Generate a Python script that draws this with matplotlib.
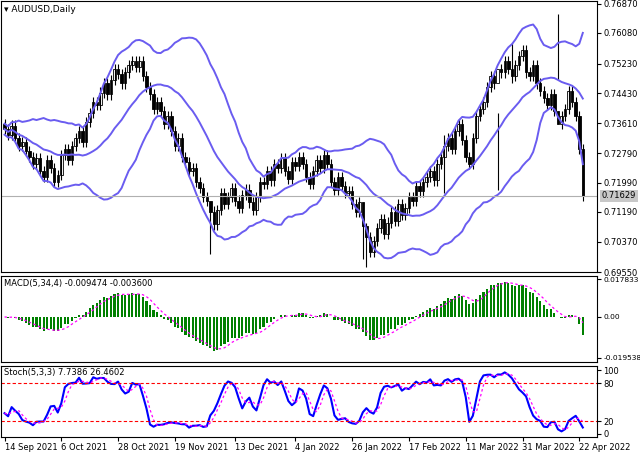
import matplotlib.pyplot as plt
import numpy as np
import pandas as pd

# daily closes AUDUSD
closes = [
    0.7345, 0.7330, 0.7355, 0.7320, 0.7300, 0.7310, 0.7285, 0.7270, 0.7250, 0.7265, 0.7230, 0.7215, 0.7260, 0.7240, 0.7200, 0.7220, 0.7275,
    0.7290, 0.7260, 0.7300, 0.7320, 0.7340, 0.7310, 0.7365, 0.7390, 0.7420, 0.7410, 0.7445, 0.7470, 0.7440, 0.7480, 0.7510, 0.7495, 0.7470, 0.7500, 0.7520, 0.7530, 0.7515,
    0.7530, 0.7490, 0.7460, 0.7440, 0.7400, 0.7420, 0.7395, 0.7360, 0.7380, 0.7340, 0.7300, 0.7320, 0.7270, 0.7255, 0.7230, 0.7240, 0.7200, 0.7185, 0.7160, 0.7150, 0.7120,
    0.7085, 0.7125, 0.7170, 0.7140, 0.7160, 0.7185, 0.7150, 0.7130, 0.7165, 0.7180, 0.7145, 0.7125, 0.7160, 0.7200, 0.7195, 0.7230, 0.7205, 0.7250, 0.7240, 0.7265, 0.7230, 0.7210, 0.7255, 0.7245, 0.7270,
    0.7250, 0.7215, 0.7195, 0.7230, 0.7260, 0.7240, 0.7275, 0.7250, 0.7200, 0.7180, 0.7215, 0.7190, 0.7170, 0.7175, 0.7140, 0.7120, 0.7145, 0.7080, 0.7050, 0.7010, 0.7040, 0.7075,
    0.7100, 0.7060, 0.7090, 0.7120, 0.7095, 0.7140, 0.7110, 0.7130, 0.7160, 0.7150, 0.7190, 0.7175, 0.7200, 0.7215, 0.7230, 0.7205, 0.7250, 0.7270, 0.7300, 0.7320,
    0.7290, 0.7340, 0.7360, 0.7315, 0.7270, 0.7250, 0.7320, 0.7380, 0.7400, 0.7420, 0.7460, 0.7490, 0.7470, 0.7510, 0.7500, 0.7530, 0.7510, 0.7490, 0.7520, 0.7545, 0.7560, 0.7500, 0.7490,
    0.7520, 0.7470, 0.7450, 0.7430, 0.7410, 0.7440, 0.7395, 0.7360, 0.7380, 0.7400, 0.7450, 0.7420, 0.7380, 0.7290, 0.7163,
]
first_open = 0.7360
wick = 0.0014
# notable long wicks: bar index -> (high, low)
spikes = {58: (0.7130, 0.7005), 102: (0.7090, 0.6970), 101: (0.7110, 0.6990), 124: (0.7330, 0.7170), 139: (0.7390, 0.7180), 156: (0.7660, 0.7480), 143: (0.7580, 0.7470)}

price_ticks = [0.76870, 0.76080, 0.75230, 0.74430, 0.73610, 0.72790, 0.71990, 0.71190, 0.70370, 0.69550]
macd_ticks = [0.017833, 0.0, -0.019538]
macd_labels = ['0.017833', '0.00', '-0.019538']
date_labels = ['14 Sep 2021', '6 Oct 2021', '28 Oct 2021', '19 Nov 2021', '13 Dec 2021', '4 Jan 2022',
               '26 Jan 2022', '17 Feb 2022', '11 Mar 2022', '31 Mar 2022', '22 Apr 2022']
date_idx = [0, 16, 32, 48, 65, 82, 98, 114, 130, 146, 162]
last_price = 0.71629

c = pd.Series(closes)
o = c.shift(1).fillna(first_open)
hi = np.maximum(o, c) + wick
lo = np.minimum(o, c) - wick
for k, (h, l) in spikes.items():
    hi[k], lo[k] = h, l
x = np.arange(len(c))

# indicators
mid = c.rolling(20, min_periods=1).mean()
sd = c.rolling(20, min_periods=2).std(ddof=0).bfill()
up, dn = mid + 2 * sd, mid - 2 * sd
macd = c.ewm(span=5, adjust=False).mean() - c.ewm(span=34, adjust=False).mean()
sig = macd.rolling(4, min_periods=1).mean()
ll = lo.rolling(5, min_periods=1).min()
hh = hi.rolling(5, min_periods=1).max()
k_raw = (c - ll).rolling(3, min_periods=1).sum() / (hh - ll).rolling(3, min_periods=1).sum() * 100
d_line = k_raw.rolling(3, min_periods=1).mean()

W, H = 640, 457
fig = plt.figure(figsize=(6.4, 4.57), dpi=100)
def pax(x0, y0, x1, y1):
    return fig.add_axes([x0 / W, 1 - y1 / H, (x1 - x0) / W, (y1 - y0) / H])
ax = pax(1, 1, 597, 272)
am = pax(1, 276, 597, 362)
ast = pax(1, 366, 597, 437)
xl = (-1, len(c) + 3)
band = '#6a5cf0'
fs = 6

for i in x:
    col = 'white' if c[i] >= o[i] else 'black'
    ax.vlines(i, lo[i], hi[i], color='black', lw=0.8)
    ax.bar(i, max(abs(c[i] - o[i]), 0.0002), bottom=min(o[i], c[i]), width=0.7,
           color=col, edgecolor='black', linewidth=0.6)
for s in (up, mid, dn):
    ax.plot(x, s, color=band, lw=1.4)
ax.axhline(last_price, color='#b0b0b0', lw=0.8)
ax.set_ylim(0.69550, 0.76950)
ax.set_yticks(price_ticks)
ax.set_yticklabels(['%.5f' % v for v in price_ticks])
ax.text(1.008, last_price, '%.5f' % last_price, transform=ax.get_yaxis_transform(), fontsize=fs,
        va='center', bbox=dict(facecolor='#c8c8c8', edgecolor='none', pad=1))
ax.text(0.005, 0.985, '\u25BE AUDUSD,Daily', transform=ax.transAxes, fontsize=fs + 0.5, va='top')

am.bar(x, macd, width=0.6, color='green')
am.plot(x, sig, color='magenta', ls=(0, (2, 2)), lw=0.9)
am.set_ylim(-0.0215, 0.0195)
am.set_yticks(macd_ticks)
am.set_yticklabels(macd_labels, fontsize=5.4)
am.text(0.005, 0.97, 'MACD(5,34,4) -0.009474 -0.003600', transform=am.transAxes, fontsize=fs, va='top')

ast.plot(x, k_raw, color='blue', lw=1.5)
ast.plot(x, d_line, color='magenta', ls=(0, (2, 2)), lw=0.9)
for lv in (80, 20):
    ast.axhline(lv, color='red', ls=(0, (3, 2)), lw=0.8)
ast.set_ylim(-5, 107)
ast.set_yticks([100, 80, 20, 0])
ast.text(0.005, 0.97, 'Stoch(5,3,3) 7.7386 26.4602', transform=ast.transAxes, fontsize=fs, va='top')
ast.set_xticks(date_idx)
ast.set_xticklabels(date_labels, ha='left')

for a in (ax, am, ast):
    a.set_xlim(*xl)
    a.yaxis.tick_right()
    a.tick_params(length=3, pad=1.5)
    a.tick_params(axis='x', labelsize=fs)
    for sp in a.spines.values():
        sp.set_linewidth(0.8)
ax.tick_params(axis='y', labelsize=fs)
ast.tick_params(axis='y', labelsize=fs)
for a in (ax, am):
    a.set_xticks([])

fig.savefig('out.png', dpi=100)
